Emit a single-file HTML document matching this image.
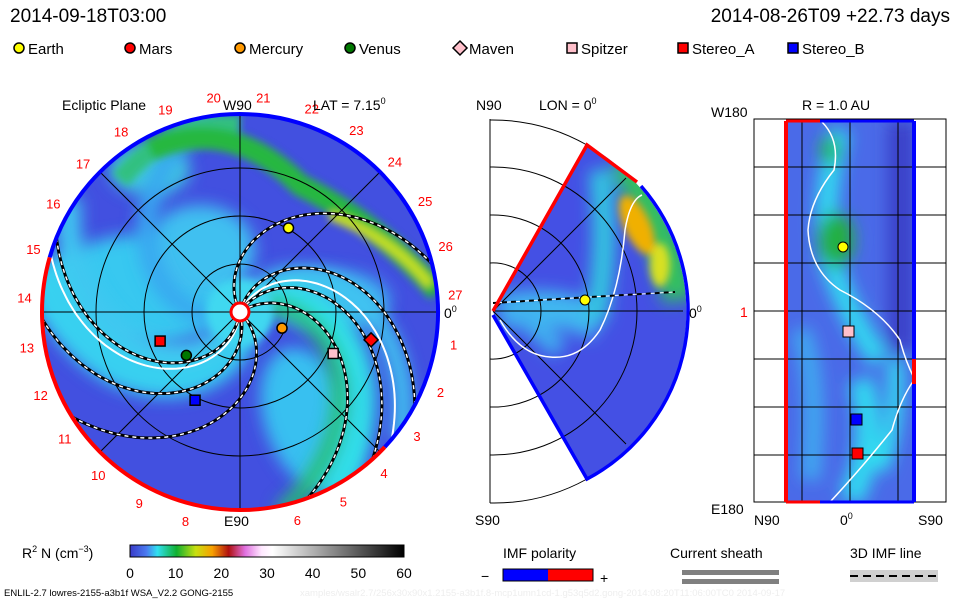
<!DOCTYPE html>
<html><head><meta charset="utf-8"><style>
body{margin:0;background:#fff;font-family:"Liberation Sans",sans-serif}
svg text{font-family:"Liberation Sans",sans-serif}
</style></head><body>
<svg id="s" width="960" height="600" viewBox="0 0 960 600" xmlns="http://www.w3.org/2000/svg">
<defs>
<filter id="bl" x="-30%" y="-30%" width="160%" height="160%"><feGaussianBlur stdDeviation="8"/></filter>
<filter id="bl2" x="-30%" y="-30%" width="160%" height="160%"><feGaussianBlur stdDeviation="4"/></filter>
<clipPath id="disk"><circle cx="240" cy="312" r="198"/></clipPath>
<clipPath id="wedge"><path d="M493,312 L587,145 A190,190 0 0 1 587,479 Z"/></clipPath>
<clipPath id="rect"><rect x="786" y="121" width="128" height="381"/></clipPath>
<linearGradient id="cb" x1="0" x2="1">
<stop offset="0" stop-color="#3a3ac8"/><stop offset="0.06" stop-color="#4a7af0"/><stop offset="0.1" stop-color="#30e0f0"/>
<stop offset="0.17" stop-color="#10b030"/><stop offset="0.24" stop-color="#c8e010"/><stop offset="0.3" stop-color="#f8a000"/>
<stop offset="0.36" stop-color="#b01010"/><stop offset="0.42" stop-color="#e070e0"/><stop offset="0.48" stop-color="#ffe8ff"/>
<stop offset="0.52" stop-color="#ffffff"/><stop offset="1" stop-color="#000"/></linearGradient>
</defs>
<text x="10" y="22" font-size="19">2014-09-18T03:00</text>
<text x="950" y="22" font-size="19" text-anchor="end">2014-08-26T09 +22.73 days</text>
<g id="legend"></g>

<g>
<g clip-path="url(#disk)">
<rect x="40" y="110" width="400" height="410" fill="#4250e0"/>
<g filter="url(#bl)">
<ellipse cx="140" cy="290" rx="95" ry="55" fill="#38c8f0"/>
<ellipse cx="200" cy="250" rx="55" ry="45" fill="#40c0f0"/>
<ellipse cx="310" cy="420" rx="45" ry="75" fill="#38c0f0" transform="rotate(-20 310 420)"/>
<ellipse cx="330" cy="300" rx="60" ry="30" fill="#40b0f0"/>
<ellipse cx="150" cy="170" rx="40" ry="25" fill="#40c8e0"/>
</g>
<g id="bands" filter="url(#bl)"></g>
<g filter="url(#bl2)">
<path d="M120,180 Q170,120 240,125" stroke="#30c080" stroke-width="20" fill="none"/>
<path d="M150,150 Q230,115 300,185 Q380,225 438,292" stroke="#28b840" stroke-width="22" fill="none"/>
<path d="M330,215 Q395,240 430,285" stroke="#c8e020" stroke-width="10" fill="none"/>
<circle cx="240" cy="312" r="34" fill="#40d8f0"/>
</g>
</g>
<g stroke="#000" stroke-width="1" fill="none" clip-path="url(#disk)">
<circle cx="240" cy="312" r="48"/><circle cx="240" cy="312" r="96"/><circle cx="240" cy="312" r="144"/>
<line x1="40" y1="312" x2="440" y2="312"/><line x1="240" y1="110" x2="240" y2="514"/>
<line x1="100" y1="172" x2="380" y2="452"/><line x1="100" y1="452" x2="380" y2="172"/>
</g>
<g id="spirals" clip-path="url(#disk)"></g>
<path id="rimB" fill="none" stroke="#0000ff" stroke-width="4"/>
<path id="rimR" fill="none" stroke="#ff0000" stroke-width="4"/>
<circle cx="240" cy="312" r="9" fill="#fff" stroke="#f00" stroke-width="3"/>
<g id="hours" font-size="13" fill="#f00"></g>
<text x="62" y="110" font-size="14">Ecliptic Plane</text>
<text x="223" y="110" font-size="14">W90</text>
<text x="224" y="526" font-size="14">E90</text>
<text x="313" y="110" font-size="14">LAT = 7.15<tspan dy="-6" font-size="9">0</tspan></text>
<text x="444" y="318" font-size="14">0<tspan dy="-6" font-size="9">0</tspan></text>
<g id="leftMarkers"></g>
</g>

<g>
<g clip-path="url(#wedge)">
<rect x="490" y="140" width="200" height="345" fill="#4450e4"/>
<g filter="url(#bl)">
<path d="M500,312 Q560,300 600,325" stroke="#40b8f0" stroke-width="35" fill="none"/>
<path d="M500,300 Q540,330 560,350" stroke="#40b0f0" stroke-width="20" fill="none"/>
<path d="M600,170 Q610,250 595,320" stroke="#30c8e0" stroke-width="22" fill="none"/>
<path d="M625,160 Q665,230 680,300" stroke="#30c060" stroke-width="34" fill="none"/>
</g>
<g filter="url(#bl2)"><ellipse cx="637" cy="225" rx="13" ry="32" fill="#f0b000" transform="rotate(-25 637 225)"/><ellipse cx="660" cy="265" rx="10" ry="22" fill="#d8e020"/></g>
</g>
<line x1="490" y1="119" x2="490" y2="503" stroke="#000"/>
<g stroke="#000" fill="none">
<path d="M490,263 A48,48 0 0 1 541,311 A48,48 0 0 1 490,359"/>
<path d="M490,215 A96,96 0 0 1 589,311 A96,96 0 0 1 490,407"/>
<path d="M490,167 A144,144 0 0 1 637,311 A144,144 0 0 1 490,455"/>
<path d="M490,120 A192,192 0 0 1 587,145"/><path d="M587,479 A192,192 0 0 1 490,503"/>
<line x1="493" y1="311" x2="683" y2="311"/>
<line x1="493" y1="311" x2="626" y2="178"/><line x1="493" y1="311" x2="626" y2="444"/>
</g>
<path d="M642,195 Q630,200 625,230 Q620,290 600,330 Q580,360 550,357 Q520,355 500,320" stroke="#fff" stroke-width="1.5" fill="none"/>
<path d="M493,303 L590,297 L675,292" stroke="#000" stroke-width="2" stroke-dasharray="5,4" fill="none"/>
<path d="M493,303 L590,297 L675,292" stroke="#fff" stroke-width="1" stroke-dasharray="4,5" stroke-dashoffset="4" fill="none"/>
<path d="M493,311 L587,145 L637,182" stroke="#f00" stroke-width="3.5" fill="none"/>
<path d="M641,186 A190,190 0 0 1 587,479 L493,315" stroke="#00f" stroke-width="3.5" fill="none"/>
<circle cx="585" cy="300" r="5" fill="#ff0" stroke="#000"/>
<text x="476" y="110" font-size="14">N90</text>
<text x="539" y="110" font-size="14">LON = 0<tspan dy="-6" font-size="9">0</tspan></text>
<text x="475" y="525" font-size="14">S90</text>
<text x="689" y="318" font-size="14">0<tspan dy="-6" font-size="9">0</tspan></text>
</g>

<g>
<g clip-path="url(#rect)">
<rect x="786" y="121" width="128" height="381" fill="#4a6ae8"/>
<g filter="url(#bl)">
<path d="M840,130 Q820,200 830,260 Q850,320 880,360" stroke="#30d8f0" stroke-width="22" fill="none"/>
<path d="M860,380 Q880,440 850,500" stroke="#30d8f0" stroke-width="25" fill="none"/>
<path d="M800,330 Q820,380 810,480" stroke="#40a8f0" stroke-width="20" fill="none"/>
<path d="M895,360 Q900,420 880,470" stroke="#30e0f0" stroke-width="15" fill="none"/>
<ellipse cx="836" cy="240" rx="18" ry="28" fill="#20b040"/>
<ellipse cx="830" cy="150" rx="10" ry="15" fill="#20c060"/>
<rect x="888" y="121" width="26" height="230" fill="#3a40c8"/>
</g>
</g>
<rect x="754" y="119" width="192" height="383" fill="none" stroke="#000"/>
<g stroke="#000" stroke-width="1">
<line x1="802" y1="119" x2="802" y2="502"/><line x1="850" y1="119" x2="850" y2="502"/><line x1="898" y1="119" x2="898" y2="502"/>
<line x1="754" y1="167" x2="946" y2="167"/><line x1="754" y1="215" x2="946" y2="215"/><line x1="754" y1="263" x2="946" y2="263"/>
<line x1="754" y1="311" x2="946" y2="311"/><line x1="754" y1="359" x2="946" y2="359"/><line x1="754" y1="407" x2="946" y2="407"/><line x1="754" y1="455" x2="946" y2="455"/>
</g>
<path d="M822,122 Q840,140 834,170 Q810,200 808,230 Q810,270 840,290 Q880,310 900,340 Q905,360 914,378" stroke="#fff" stroke-width="1.5" fill="none"/>
<path d="M914,380 Q900,400 892,430 Q860,470 830,502" stroke="#fff" stroke-width="1.5" fill="none"/>
<line x1="786" y1="121" x2="786" y2="502" stroke="#f00" stroke-width="4"/>
<line x1="786" y1="121" x2="820" y2="121" stroke="#f00" stroke-width="3"/><line x1="820" y1="121" x2="914" y2="121" stroke="#00f" stroke-width="3"/>
<line x1="786" y1="502" x2="820" y2="502" stroke="#f00" stroke-width="3"/><line x1="820" y1="502" x2="914" y2="502" stroke="#00f" stroke-width="3"/>
<line x1="914" y1="121" x2="914" y2="359" stroke="#00f" stroke-width="4"/><line x1="914" y1="359" x2="914" y2="384" stroke="#f00" stroke-width="4"/><line x1="914" y1="384" x2="914" y2="502" stroke="#00f" stroke-width="4"/>
<circle cx="843" cy="247" r="5" fill="#ff0" stroke="#000"/>
<rect x="843" y="326" width="11" height="11" fill="#ffc0cb" stroke="#000"/>
<rect x="851" y="414" width="11" height="11" fill="#00f" stroke="#000"/>
<rect x="852" y="448" width="11" height="11" fill="#f00" stroke="#000"/>
<text x="802" y="110" font-size="14">R = 1.0 AU</text>
<text x="711" y="117" font-size="14">W180</text>
<text x="711" y="514" font-size="14">E180</text>
<text x="740" y="317" font-size="14" fill="#f00">1</text>
<text x="754" y="525" font-size="14">N90</text>
<text x="840" y="525" font-size="14">0<tspan dy="-6" font-size="9">0</tspan></text>
<text x="918" y="525" font-size="14">S90</text>
</g>

<g>
<text x="22" y="558" font-size="14">R<tspan dy="-6" font-size="9">2</tspan><tspan dy="6"> N (cm</tspan><tspan dy="-6" font-size="9">−3</tspan><tspan dy="6">)</tspan></text>
<rect x="130" y="545" width="274" height="12" fill="url(#cb)" stroke="#000"/>
<g id="cbticks" font-size="14"></g>
</g>
<g>
<text x="503" y="558" font-size="14">IMF polarity</text>
<text x="481" y="581" font-size="14">−</text>
<rect x="503" y="569" width="45" height="12" fill="#00f"/><rect x="548" y="569" width="45" height="12" fill="#f00"/>
<rect x="503" y="569" width="90" height="12" fill="none" stroke="#000"/>
<text x="600" y="583" font-size="14">+</text>
</g>
<g>
<text x="670" y="558" font-size="14">Current sheath</text>
<rect x="682" y="570" width="97" height="5" fill="#808080"/><rect x="682" y="579" width="97" height="5" fill="#808080"/>
</g>
<g>
<text x="850" y="558" font-size="14">3D IMF line</text>
<rect x="850" y="570" width="88" height="12" fill="#d0d0d0"/>
<line x1="850" y1="576" x2="938" y2="576" stroke="#000" stroke-width="2" stroke-dasharray="8,5"/>
</g>
<text x="4" y="596" font-size="9.5">ENLIL-2.7 lowres-2155-a3b1f WSA_V2.2 GONG-2155</text>
<text x="300" y="596" font-size="9.5" fill="#eee">xamples/wsalr2.7/256x30x90x1.2155-a3b1f.8-mcp1umn1cd-1.g53q5d2.gong-2014:08:20T11:06:00TC0    2014-09-17</text>
</svg>
<script>
const NS="http://www.w3.org/2000/svg";
const legendNames=["Earth","Mars","Mercury","Venus","Maven","Spitzer","Stereo_A","Stereo_B"];
const legendX=[12,123,233,343,453,565,676,786];
const legendColors=["#ff0","#f00","#f90","#070","#ffc0cb","#ffc0cb","#f00","#00f"];
const legendShapes=["c","c","c","c","d","s","s","s"];
const cbTicks=[0,10,20,30,40,50,60];
const hourLabels=[8,9,10,11,12,13,14,15,16,17,18,19,20,21,22,23,24,25,26,27,1,2,3,4,5,6];
const bodyNames=["earth","mercury","venus","stereo-a","stereo-b","spitzer","mars"];
const bodyR=[97,45,69,85,99,102,134];
const bodyAng=[60,-21,-141,-160,-117,-24,-12];
const bodyShape=["c","c","c","s","s","s","d"];
const bodyColor=["#ff0","#f90","#070","#f00","#00f","#ffc0cb","#f00"];
const fieldEnds=[14,-28,-48,-70,158,182,212];
const sheathEnds=[163,-40];
const bandEnds=[170,150,-60,-75,-35,100];
const bandColors=["#38d0f0","#40c8f0","#30e0e8","#28c070","#40c8f0","#38a8f0"];
const bandWidths=[40,24,26,16,18,20];
const RATE=0.52;
function mk(t,a,p){const e=document.createElementNS(NS,t);for(const k in a)e.setAttribute(k,a[k]);(p||document.getElementById('s')).appendChild(e);return e;}
function marker(shape,x,y,col,par,sz){
  if(shape==="c")return mk('circle',{cx:x,cy:y,r:sz,fill:col,stroke:'#000','stroke-width':1.5},par);
  if(shape==="s")return mk('rect',{x:x-sz,y:y-sz,width:2*sz,height:2*sz,fill:col,stroke:'#000','stroke-width':1.5},par);
  return mk('path',{d:`M${x},${y-sz-2}L${x+sz+2},${y}L${x},${y+sz+2}L${x-sz-2},${y}Z`,fill:col,stroke:'#000','stroke-width':1.5},par);
}
function spiral(endAng){
  let d="";
  for(let r=10;r<=206;r+=3){const a=(endAng+(198-r)*RATE)*Math.PI/180;d+=(d?"L":"M")+(240+r*Math.cos(a)).toFixed(1)+","+(312-r*Math.sin(a)).toFixed(1);}
  return d;
}
const lg=document.getElementById('legend');
legendNames.forEach((n,i)=>{
  const g=mk('g',{},lg);
  
  
  marker(legendShapes[i],legendX[i]+7,48,legendColors[i],g,5);
  const t=mk('text',{x:legendX[i]+16,y:54,'font-size':15},g);t.textContent=n;
});
const cbg=document.getElementById('cbticks');
cbTicks.forEach(v=>{
  const x=130+v/60*274;
  const t=mk('text',{x:x,y:578,'text-anchor':'middle','font-size':14},cbg);t.textContent=v;
  
  
});
const hg=document.getElementById('hours');
hourLabels.forEach((h,i)=>{
  const a=(97-(i-12)*13.2)*Math.PI/180;
  const x=240+216*Math.cos(a),y=312-216*Math.sin(a)+5;
  const t=mk('text',{x:x,y:y,'text-anchor':'middle'},hg);t.textContent=h;
  
  
});
function arc(a0,a1){const r=198,p=d=>[240+r*Math.cos(d*Math.PI/180),312-r*Math.sin(d*Math.PI/180)];const s=p(a0),e=p(a1);return `M${s[0]},${s[1]}A${r},${r} 0 ${Math.abs(a1-a0)>180?1:0} 0 ${e[0]},${e[1]}`;}
document.getElementById('rimB').setAttribute('d',arc(-43,164));
document.getElementById('rimR').setAttribute('d',arc(164,317));
const bg=document.getElementById('bands');
bandEnds.forEach((e,i)=>{
  const p=mk('path',{d:spiral(e),stroke:bandColors[i],'stroke-width':bandWidths[i],fill:'none'},bg);
  
  
});
const sp=document.getElementById('spirals');
sheathEnds.forEach(e=>{
  const p=mk('path',{d:spiral(e),stroke:'#fff','stroke-width':2,fill:'none'},sp);
  
  
});
fieldEnds.forEach(e=>{
  const d=spiral(e);
  const p=mk('path',{d:d,stroke:'#000','stroke-width':3,fill:'none'},sp);
  
  
  mk('path',{d:d,stroke:'#fff','stroke-width':1.5,fill:'none','stroke-dasharray':'4,4'},sp);
});
const lm=document.getElementById('leftMarkers');
bodyNames.forEach((n,i)=>{
  const a=bodyAng[i]*Math.PI/180;
  const m=marker(bodyShape[i],240+bodyR[i]*Math.cos(a),312-bodyR[i]*Math.sin(a),bodyColor[i],lm,5);
  
  
});
</script>
</body></html>
